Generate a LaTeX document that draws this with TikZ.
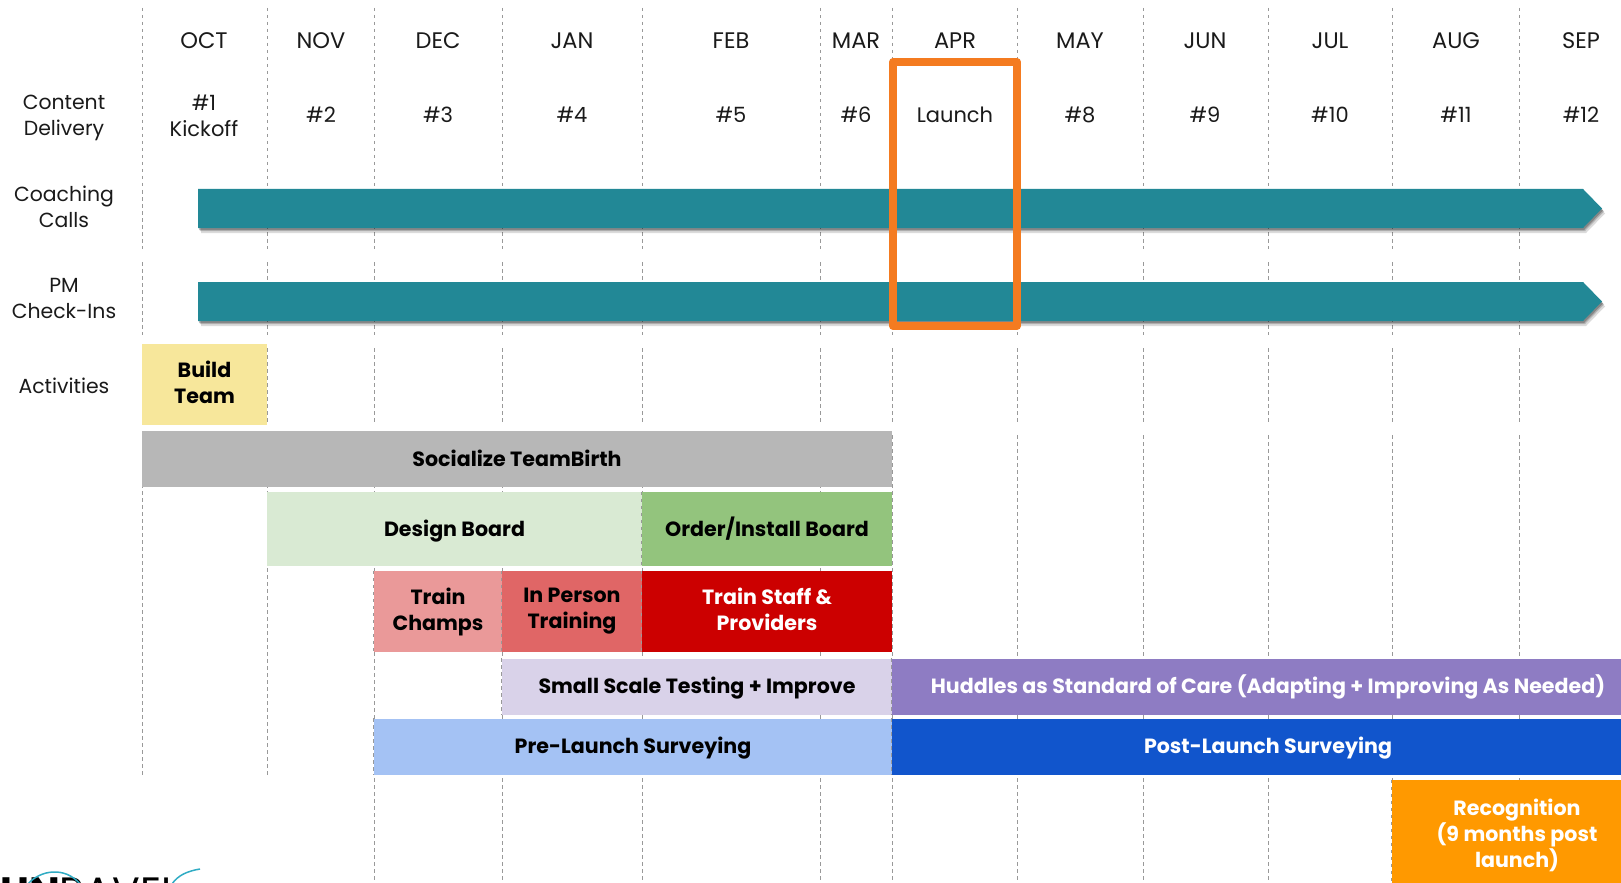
\documentclass[tikz,border=0pt]{standalone}
\usepackage{fontspec}
\setmainfont{Poppins}
\usetikzlibrary{shadows}
\definecolor{tealbar}{HTML}{228896}
\definecolor{launchbox}{HTML}{F47B20}
\definecolor{gridgray}{HTML}{999999}
\definecolor{inktext}{HTML}{1A1A1A}
\definecolor{logoteal}{HTML}{30ACC4}
\definecolor{buildfill}{HTML}{F7E79B}
\definecolor{socialfill}{HTML}{B7B7B7}
\definecolor{designfill}{HTML}{D9EAD3}
\definecolor{orderfill}{HTML}{93C47D}
\definecolor{champsfill}{HTML}{EA9999}
\definecolor{personfill}{HTML}{E06666}
\definecolor{stafffill}{HTML}{CC0000}
\definecolor{smallfill}{HTML}{D9D2E9}
\definecolor{huddlefill}{HTML}{8E7CC3}
\definecolor{prefill}{HTML}{A4C2F4}
\definecolor{postfill}{HTML}{1155CC}
\definecolor{recogfill}{HTML}{FF9900}
\tikzset{
	gridline/.style={draw=gridgray,line width=1pt,dash pattern=on 3.5pt off 3.5pt},
	heading/.style={text=inktext,font=\fontsize{21}{26}\selectfont,align=center,inner sep=0pt},
	monthname/.style={heading,font=\fontsize{22.5}{26}\selectfont},
	rowname/.style={heading,font=\fontsize{20.4}{26}\selectfont},
	activity/.style 2 args={font=\bfseries\fontsize{20.6}{26}\selectfont,align=center,inner sep=0pt,minimum height=#1,
		execute at begin node=\rule{0pt}{#2},execute at end node=\rule[-4.5pt]{0pt}{4.5pt}},
	arrowbar/.style={fill=tealbar,
		drop shadow={opacity=.14,fill=black,shadow xshift=3pt,shadow yshift=-5pt},
		drop shadow={opacity=.18,fill=black,shadow xshift=2pt,shadow yshift=-3pt},
		drop shadow={opacity=.25,fill=black,shadow xshift=1pt,shadow yshift=-2pt}},
}
\begin{document}
\begin{tikzpicture}[x=1pt,y=-1pt]
\useasboundingbox (0,0) rectangle (1621,882.5);
\clip (0,0) rectangle (1621,884);
\fill[white] (0,0) rectangle (1621,884);

% month lines
\foreach \gx/\gend in {142/778,267/778,374/884,502/884,642/884,820/884,892/884,1017/884,1143/884,1268/884,1392/884,1519/884}{
	\draw[gridline] (\gx,8) -- (\gx,249);
	\draw[gridline] (\gx,262) -- (\gx,335);
	\draw[gridline] (\gx,348) -- (\gx,423);
	\draw[gridline] (\gx,435) -- (\gx,\gend);
}

% months and content delivery
\foreach \mx/\month/\content in {321/NOV/\#2,438/DEC/\#3,572/JAN/\#4,731/FEB/\#5,856/MAR/\#6,955/APR/Launch,1080/MAY/\#8,1205/JUN/\#9,1330/JUL/\#10,1456/AUG/\#11,1581/SEP/\#12}{
	\node[monthname] (m\month) at (\mx,41) {\month};
	\node[heading] (c\month) at (\mx,115) {\content};
}
\node[monthname] (mOCT) at (204,41) {OCT};
\node[heading] (cOCT) at (204,115.5) {\#1\\Kickoff};

% row labels
\node[rowname] (lcontent) at (64,118) {Content\\Delivery};
\node[rowname] (lcoach) at (64,207) {Coaching\\Calls};
\node[rowname] (lpm) at (64,298.5) {PM\\Check-Ins};
\node[rowname] (lact) at (64,386) {Activities};

% coaching and pm bars
\path[arrowbar] (198,189) -- (1583,189) -- (1602,208.5) -- (1583,228) -- (198,228) -- cycle;
\path[arrowbar] (198,282) -- (1583,282) -- (1602,301.5) -- (1583,321) -- (198,321) -- cycle;

% activities
\node[activity={81pt}{30pt},fill=buildfill,minimum width=125pt] (build) at (204.5,384.5) {Build\\Team};
\node[activity={56pt}{20pt},fill=socialfill,minimum width=750pt] (social) at (517,459) {Socialize TeamBirth};
\node[activity={74pt}{20pt},fill=designfill,minimum width=375pt] (design) at (454.5,529) {Design Board};
\node[activity={74pt}{20pt},fill=orderfill,minimum width=250pt] (order) at (767,529) {Order/Install Board};
\node[activity={81pt}{30pt},fill=champsfill,minimum width=128pt] (champs) at (438,611.5) {Train\\Champs};
\node[activity={81pt}{30pt},fill=personfill,minimum width=140pt] (inperson) at (572,611.5) {In Person\\Training};
\node[activity={81pt}{30pt},fill=stafffill,text=white,minimum width=250pt] (staff) at (767,611.5) {Train Staff \&\\Providers};
\node[activity={56pt}{20pt},fill=smallfill,minimum width=390pt] (small) at (697,686.5) {Small Scale Testing + Improve};
\node[activity={56pt}{20pt},fill=huddlefill,text=white,minimum width=752pt] (huddles) at (1268,686.5) {Huddles as Standard of Care (Adapting + Improving As Needed)};
\node[activity={56pt}{20pt},fill=prefill,minimum width=518pt] (prelaunch) at (633,746.5) {Pre-Launch Surveying};
\node[activity={56pt}{20pt},fill=postfill,text=white,minimum width=752pt] (postlaunch) at (1268,746.5) {Post-Launch Surveying};
\node[activity={110pt}{18pt},fill=recogfill,text=white,minimum width=250pt] (recog) at (1517,835) {Recognition\\(9 months post\\launch)};

% month lines on the box edges
\foreach \edge in {champs,inperson,staff,small,huddles,prelaunch,postlaunch,order,recog}{
	\draw[gridline] (\edge.north west) -- (\edge.south west);
}

% launch month
\node[draw=launchbox,line width=8pt,line join=round,minimum width=124pt,minimum height=264pt,inner sep=0pt] (launch) at (955,194) {};

% logo
\node[anchor=base west,inner sep=0pt,font=\fontsize{41}{41}\selectfont,text=black] (logo) at (0,906) {\textbf{UN}RAVEL};
\draw[draw=logoteal,line width=1.5pt] (28,884) .. controls (40,870) and (65,866) .. (80,884);
\draw[draw=logoteal,line width=1.5pt] (172,884) .. controls (178,875) and (188,871) .. (200,869);
\end{tikzpicture}
\end{document}
